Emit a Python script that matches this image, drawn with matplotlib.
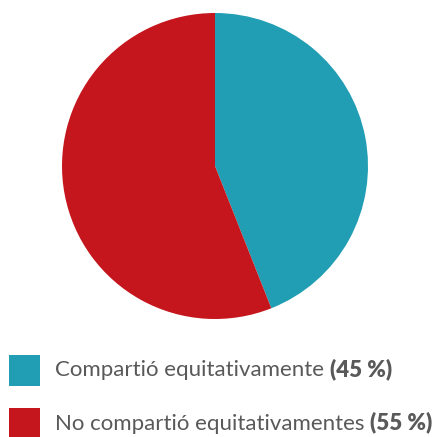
import matplotlib.pyplot as plt
from matplotlib.patches import Rectangle

W, H = 432, 437

labels = ["Compartió equitativamente", "No compartió equitativamentes"]
values = [44, 56]          # slice sizes as drawn
pct_labels = [45, 55]      # percentages printed in the legend
colors = ["#219eb4", "#c4161c"]

fig = plt.figure(figsize=(W / 100, H / 100), dpi=100)

# pie area in pixels: x 62..368, y 13..319 from top
ax = fig.add_axes([62 / W, (H - 319) / H, 306 / W, 306 / H])
ax.pie(values, colors=colors, startangle=90, counterclock=False, radius=1,
       wedgeprops=dict(linewidth=0))
ax.set_xlim(-1, 1)
ax.set_ylim(-1, 1)
ax.set_aspect("equal")
ax.axis("off")

# legend rows (top of square in pixels)
row_tops = [355, 408]
sq = 31
txt_color = "#595959"
for lab, pct, col, top in zip(labels, pct_labels, colors, row_tops):
    fig.patches.append(Rectangle((9 / W, (H - top - sq) / H), sq / W, sq / H,
                                 transform=fig.transFigure, facecolor=col, edgecolor="none"))
    yc = (H - top - sq / 2) / H
    t = fig.text(55 / W, yc, lab + " ", fontsize=16, color=txt_color, family="Lato",
                 va="center", ha="left")
    fig.canvas.draw()
    ax.annotate("(%d %%)" % pct, xy=(1, 0), xycoords=t, va="bottom", ha="left",
                fontsize=16, color=txt_color, family="Lato", fontweight="heavy")

fig.savefig("out.png", dpi=100)
